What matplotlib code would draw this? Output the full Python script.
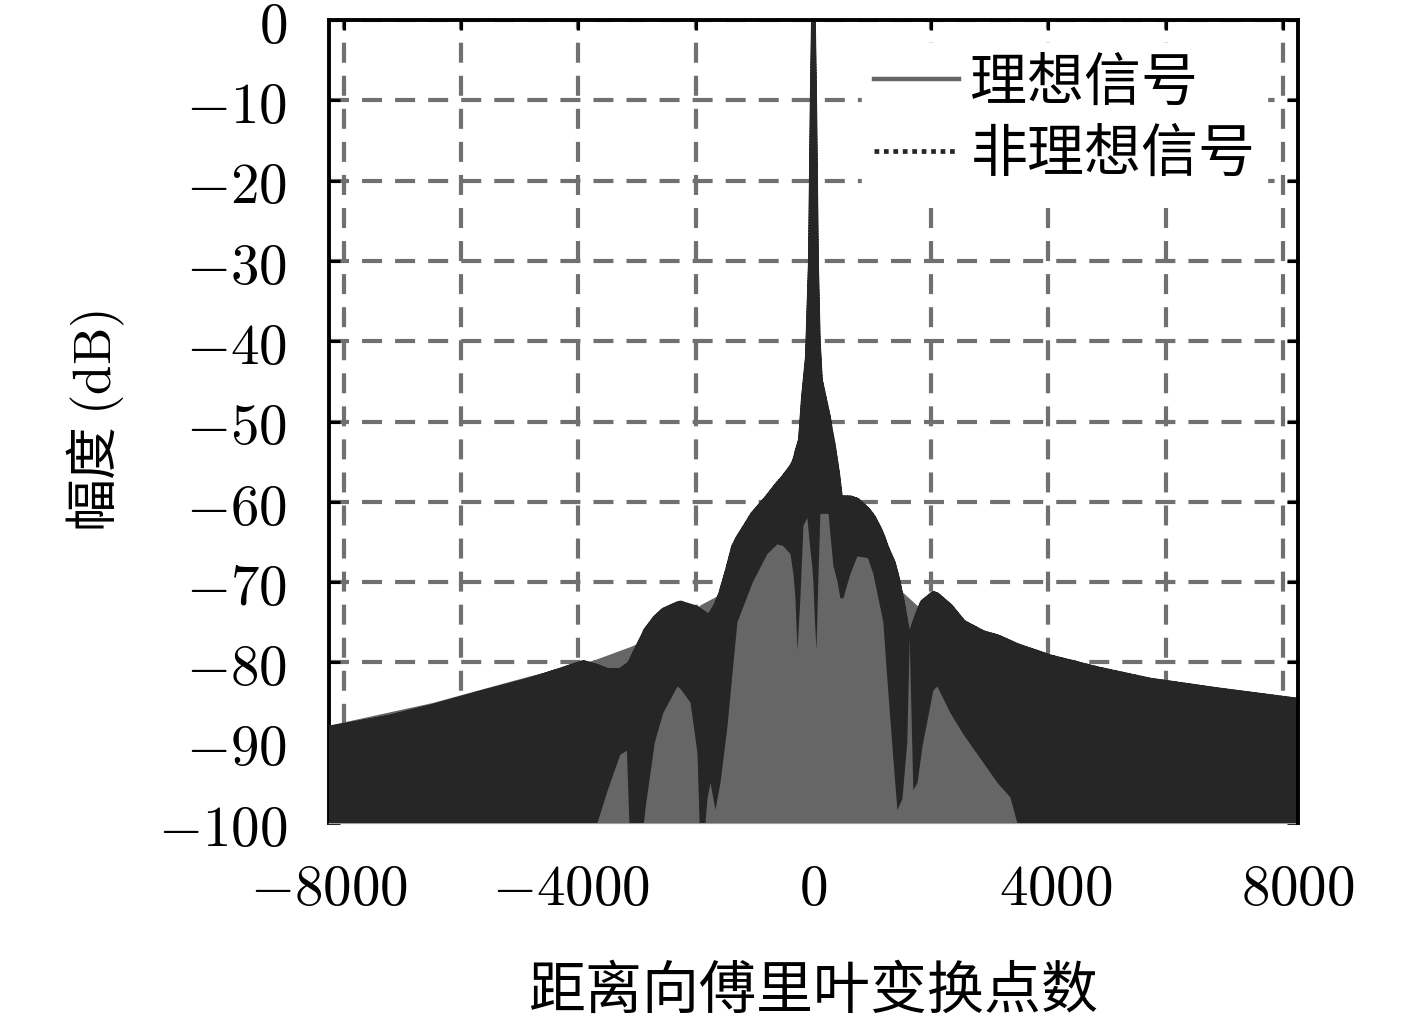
import numpy as np
import matplotlib
matplotlib.use("Agg")
import matplotlib.pyplot as plt
from matplotlib.lines import Line2D

plt.rcParams['mathtext.fontset'] = 'cm'
plt.rcParams['font.family'] = ['Noto Sans CJK SC', 'DejaVu Sans']
plt.rcParams['lines.scale_dashes'] = False

# ---- data ----
# ideal signal: upper envelope of its densely oscillating curve (dB)
ideal_x = [-8000, -6300, -4700, -3630, -3020, -2500, -2200, -1865, -1540, -1200,
           -800, -595, -300, -215, -165, -80, -30, 0, 30, 80, 165, 300, 600, 776,
           1000, 1200, 1436, 1800, 2477, 2972, 4000, 6000, 8000]
ideal_db = [-87.8, -85.0, -81.7, -79.7, -78.0, -76.3, -75.0, -72.8, -71.5, -66.5,
            -63.5, -63.0, -56.0, -53.5, -47.5, -40.0, -20.0, 0.0, -20.0, -40.0, -50.0,
            -57.0, -62.0, -63.0, -65.0, -68.0, -71.0, -73.5, -76.0, -77.2, -79.5,
            -82.8, -84.9]

# non-ideal signal: upper and lower envelopes of its dotted curve (dB)
nonideal_x = [-8000, -7000, -6300, -5500, -4700, -4200, -3800, -3566, -3400, -3190,
              -3080, -3040, -2800, -2770, -2620, -2480, -2245, -2195, -2030, -1915,
              -1880, -1783, -1750, -1700, -1618, -1535, -1420, -1320, -1255, -1000,
              -760, -595, -500, -380, -330, -297, -264, -215, -165, -100, -50, -20,
              0, 20, 50, 80, 115, 250, 280, 330, 400, 445, 495, 610, 726, 900, 990,
              1100, 1155, 1200, 1320, 1387, 1470, 1550, 1590, 1650, 1720, 1800, 1980,
              2047, 2262, 2480, 2807, 3040, 3252, 3368, 3910, 4700, 5560, 6670, 8000]
nonideal_top = [-88.2, -86.8, -85.5, -83.8, -82.2, -81.0, -80.0, -80.5, -81.0, -81.0,
                -80.4, -80.2, -76.5, -76.0, -74.5, -73.5, -72.7, -72.6, -73.0, -73.3,
                -73.5, -74.0, -74.3, -74.0, -73.0, -71.5, -68.5, -65.6, -64.6, -61.5,
                -59.4, -57.8, -57.0, -55.8, -55.2, -54.5, -53.5, -52.3, -47.0, -42.0,
                -30.0, -10.0, 0.0, -10.0, -30.0, -40.0, -44.8, -49.5, -51.0, -53.0,
                -56.5, -59.4, -59.5, -59.5, -59.8, -61.0, -61.9, -63.5, -64.5, -65.5,
                -67.6, -69.5, -72.5, -76.0, -77.0, -75.5, -74.0, -72.5, -71.4, -71.6,
                -73.0, -75.0, -76.3, -76.8, -77.5, -77.9, -79.3, -80.8, -82.2, -83.4,
                -84.7]
nonideal_bot = [-100, -100, -100, -100, -100, -100, -100, -100, -96.0, -91.5,
                -91.0, -100, -100, -98.0, -90.0, -86.3, -83.0, -83.3, -85.0, -91.3,
                -100, -100, -97.0, -95.0, -98.4, -95.0, -88.0, -80.0, -75.0, -70.0,
                -66.5, -65.3, -65.5, -66.5, -69.0, -72.0, -78.5, -72.0, -63.0, -62.0,
                -66.0, -68.0, -70.0, -74.0, -78.5, -70.0, -61.5, -61.5, -64.0, -68.0,
                -70.0, -72.0, -72.0, -69.0, -66.8, -67.0, -69.0, -73.0, -75.0, -80.0,
                -92.0, -98.4, -97.0, -90.0, -77.0, -95.9, -95.0, -90.5, -83.5, -83.0,
                -86.3, -89.0, -92.5, -95.0, -96.8, -100, -100, -100, -100, -100,
                -100]

x_tick_values = [-8000, -4000, 0, 4000, 8000]
x_tick_labels = ['$-8000$', '$-4000$', '$0$', '$4000$', '$8000$']
x_grid_values = [-7760, -5820, -3880, -1940, 0, 1940, 3880, 5820, 7760]
y_tick_values = [0, -10, -20, -30, -40, -50, -60, -70, -80, -90, -100]
y_tick_labels = ['$%d$' % v for v in y_tick_values]
series_names = ['理想信号', '非理想信号']
x_label = '距离向傅里叶变换点数'
y_label = '幅度 $(\\mathrm{dB})$'

ideal_color = '#666666'
nonideal_color = '#262626'
grid_color = '#707070'

fig = plt.figure(figsize=(14.17, 10.23), dpi=100)
ax = fig.add_axes([0.2322, 0.1955, 0.6837, 0.7849])

ax.fill_between(ideal_x, ideal_db, -100, color=ideal_color, lw=0, zorder=1)
top = np.array(nonideal_top)
bot = np.array(nonideal_bot)
ax.fill_between(nonideal_x, top, bot, where=top > bot, interpolate=True,
                color=nonideal_color, lw=0, zorder=2)
ax.plot(nonideal_x, nonideal_top, color=nonideal_color, lw=3.5, ls=(0, (1.2, 0.8)),
        zorder=2.1, dash_capstyle='round')

ax.set_xlim(-8000, 8000)
ax.set_ylim(-100, 0)

ax.set_xticks(x_tick_values, x_tick_labels)
ax.set_xticks(x_grid_values, minor=True)
ax.set_yticks(y_tick_values, y_tick_labels)

ax.tick_params(axis='x', which='major', length=0, pad=26, labelsize=41)
ax.tick_params(axis='x', which='minor', direction='in', length=7, width=2.2,
               top=True, bottom=True)
ax.tick_params(axis='y', which='major', direction='in', length=8, width=2.2,
               left=True, right=True, pad=30, labelsize=41)

ax.set_axisbelow(True)
ax.grid(False)
ax.xaxis.grid(True, which='minor', color=grid_color, lw=3.0, ls=(0, (14.4, 9.4)))
ax.yaxis.grid(True, which='major', color=grid_color, lw=3.0, ls=(0, (14.4, 9.4)))

for s in ['top', 'right']:
    ax.spines[s].set_linewidth(2.8)
    ax.spines[s].set_zorder(3)
ax.spines['left'].set_linewidth(2.8)
ax.spines['left'].set_zorder(0.6)
ax.spines['bottom'].set_linewidth(1.0)
ax.spines['bottom'].set_color('#dddddd')
ax.spines['bottom'].set_zorder(0.6)

ax.set_xlabel(x_label, fontsize=41, labelpad=32)
ax.set_ylabel(y_label, fontsize=38, labelpad=22)

handles = [Line2D([], [], color=ideal_color, lw=3.2, ls='-'),
           Line2D([], [], color=nonideal_color, lw=3.4, ls=(0, (3.4, 3.4)),
                  dash_capstyle='butt')]
leg = ax.legend(handles, series_names, loc='upper right', fontsize=41,
                bbox_to_anchor=(0.968, 0.972),
                frameon=True, fancybox=False, framealpha=1, edgecolor='white',
                handlelength=1.5, handletextpad=0.2, borderpad=0.2,
                labelspacing=0.22, borderaxespad=0.0)
leg.set_zorder(5)

fig.savefig('out.png', dpi=100)
